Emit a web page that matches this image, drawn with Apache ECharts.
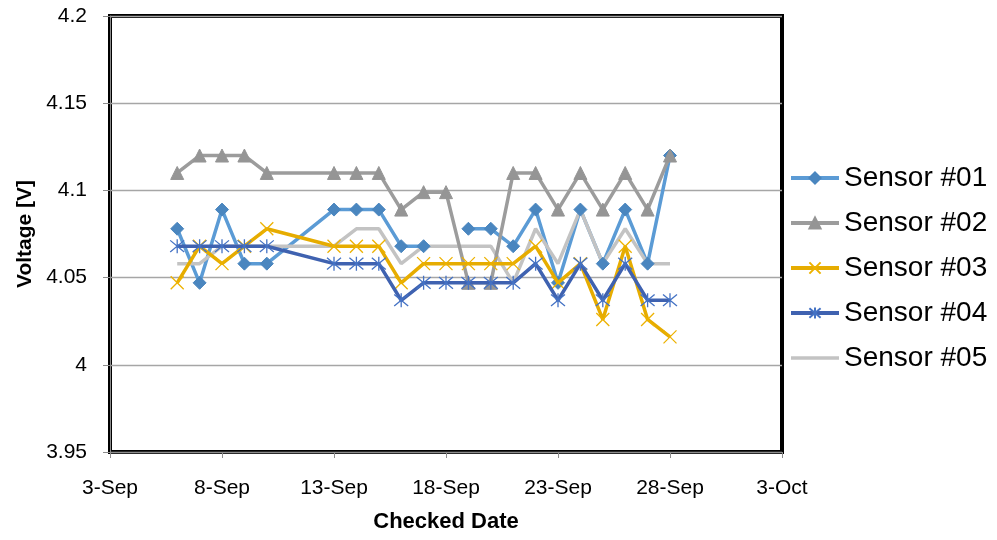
<!DOCTYPE html>
<html>
<head>
<meta charset="utf-8">
<script src="https://cdn.jsdelivr.net/npm/echarts@6/dist/echarts.min.js"></script>
<style>
  html, body { margin: 0; padding: 0; background: #fff; }
  #chart { width: 997px; height: 540px; }
</style>
</head>
<body>
<div id="chart"></div>
<script>
// Check dates (one reading per date; null = no reading for that sensor)
const checkDates = ['2014-09-06', '2014-09-07', '2014-09-08', '2014-09-09', '2014-09-10',
  '2014-09-13', '2014-09-14', '2014-09-15', '2014-09-16', '2014-09-17', '2014-09-18',
  '2014-09-19', '2014-09-20', '2014-09-21', '2014-09-22', '2014-09-23', '2014-09-24',
  '2014-09-25', '2014-09-26', '2014-09-27', '2014-09-28'];

const sensor01 = [4.078, 4.047, 4.089, 4.058, 4.058, 4.089, 4.089, 4.089, 4.068, 4.068, null,
  4.078, 4.078, 4.068, 4.089, 4.047, 4.089, 4.058, 4.089, 4.058, 4.120];
const sensor02 = [4.110, 4.120, 4.120, 4.120, 4.110, 4.110, 4.110, 4.110, 4.089, 4.099, 4.099,
  4.047, 4.047, 4.110, 4.110, 4.089, 4.110, 4.089, 4.110, 4.089, 4.120];
const sensor03 = [4.047, 4.068, 4.058, 4.068, 4.078, 4.068, 4.068, 4.068, 4.047, 4.058, 4.058,
  4.058, 4.058, 4.058, 4.068, 4.047, 4.058, 4.026, 4.068, 4.026, 4.016];
const sensor04 = [4.068, 4.068, 4.068, 4.068, 4.068, 4.058, 4.058, 4.058, 4.037, 4.047, 4.047,
  4.047, 4.047, 4.047, 4.058, 4.037, 4.058, 4.037, 4.058, 4.037, 4.037];
const sensor05 = [4.058, 4.058, 4.068, 4.068, 4.068, 4.068, 4.078, 4.078, 4.058, 4.068, 4.068,
  4.068, 4.068, 4.047, 4.078, 4.058, 4.089, 4.058, 4.078, 4.058, 4.058];

const seriesNames = ['Sensor #01', 'Sensor #02', 'Sensor #03', 'Sensor #04', 'Sensor #05'];

// Axis ranges
const dateMin = '2014-09-03';
const dateMax = '2014-10-03';
const dateStep = 5;       // days between date ticks
const voltMin = 3.95;
const voltMax = 4.2;
const voltStep = 0.05;

// Spreadsheet-style day serials (days since 1899-12-30)
const MS_DAY = 86400000;
const EPOCH_OFFSET = 25569;
function toSerial(iso) {
  const [y, m, d] = iso.split('-').map(Number);
  return Date.UTC(y, m - 1, d) / MS_DAY + EPOCH_OFFSET;
}
const MONTHS = ['Jan', 'Feb', 'Mar', 'Apr', 'May', 'Jun', 'Jul', 'Aug', 'Sep', 'Oct', 'Nov', 'Dec'];
function serialLabel(v) {
  const dt = new Date((v - EPOCH_OFFSET) * MS_DAY);
  return dt.getUTCDate() + '-' + MONTHS[dt.getUTCMonth()];
}

const xs = checkDates.map(toSerial);
const pairs = vals => vals.map((v, i) => [xs[i], v]);

const FONT = "'Liberation Sans', Arial, sans-serif";

const crossPath = 'path://M0,0L10,10M10,0L0,10';
const starPath = 'path://M0,0L10,10M10,0L0,10M5,-1L5,11';
const plainLine = 'path://M0,0L48,0L48,3.5L0,3.5Z';

const styles = [
  { line: '#5B9BD5', mark: '#4A86BF', symbol: 'diamond', size: 13, fill: true },
  { line: '#9C9C9C', mark: '#959595', symbol: 'triangle', size: 13, fill: true },
  { line: '#E6AC00', mark: '#EDB200', symbol: crossPath, size: 13, fill: false },
  { line: '#3F62B0', mark: '#4472C4', symbol: starPath, size: 14, fill: false },
  { line: '#C3C3C3', mark: '#C3C3C3', symbol: 'none', size: 0, fill: true }
];
const data = [sensor01, sensor02, sensor03, sensor04, sensor05];

const series = data.map((vals, i) => {
  const s = styles[i];
  return {
    name: seriesNames[i],
    type: 'line',
    data: pairs(vals),
    symbol: s.symbol,
    symbolSize: s.size,
    showAllSymbol: true,
    connectNulls: false,
    z: 2 + (i === 4 ? 0 : i),
    lineStyle: { color: s.line, width: 3.5 },
    itemStyle: s.fill
      ? { color: s.mark, borderColor: s.mark, borderWidth: 1 }
      : { color: 'none', borderColor: s.mark, borderWidth: 1.3 },
    emphasis: { disabled: true },
    animation: false
  };
});

const legendItems = seriesNames.map((n, i) =>
  styles[i].symbol === 'none'
    ? { name: n, icon: plainLine, itemStyle: { borderWidth: 0 } }
    : { name: n });

const chart = echarts.init(document.getElementById('chart'), null, { renderer: 'canvas' });
chart.setOption({
  backgroundColor: '#fff',
  animation: false,
  grid: {
    left: 110, top: 16, right: 215, bottom: 88,
    show: true, borderColor: '#000', borderWidth: 4, backgroundColor: '#fff',
    containLabel: false
  },
  xAxis: {
    type: 'value',
    min: toSerial(dateMin),
    max: toSerial(dateMax),
    interval: dateStep,
    name: 'Checked Date',
    nameLocation: 'middle',
    nameGap: 59,
    nameTextStyle: { fontFamily: FONT, fontWeight: 'bold', fontSize: 22, color: '#000' },
    axisLine: { show: true, lineStyle: { color: '#8C8C8C', width: 1 } },
    axisTick: { show: true, inside: false, length: 6, lineStyle: { color: '#8C8C8C' } },
    axisLabel: {
      margin: 26, fontFamily: FONT, fontSize: 21, color: '#000',
      formatter: serialLabel
    },
    splitLine: { show: false }
  },
  yAxis: {
    type: 'value',
    min: voltMin,
    max: voltMax,
    interval: voltStep,
    name: 'Voltage [V]',
    nameLocation: 'middle',
    nameGap: 74,
    nameRotate: 90,
    nameTextStyle: { fontFamily: FONT, fontWeight: 'bold', fontSize: 21, color: '#000' },
    axisLine: { show: true, lineStyle: { color: '#8C8C8C', width: 1 } },
    axisTick: { show: true, inside: false, length: 7, lineStyle: { color: '#8C8C8C' } },
    axisLabel: { margin: 23, fontFamily: FONT, fontSize: 21, color: '#000' },
    splitLine: { show: true, lineStyle: { color: '#A6A6A6', width: 1.3 } }
  },
  legend: {
    orient: 'vertical',
    left: 784,
    top: 157,
    itemWidth: 48,
    itemHeight: 14,
    itemGap: 13,
    lineStyle: { width: 4 },
    textStyle: { fontFamily: FONT, fontSize: 28, color: '#000', lineHeight: 32, padding: [0, 0, 0, 0] },
    selectedMode: false,
    data: legendItems
  },
  series: series
});
</script>
</body>
</html>
